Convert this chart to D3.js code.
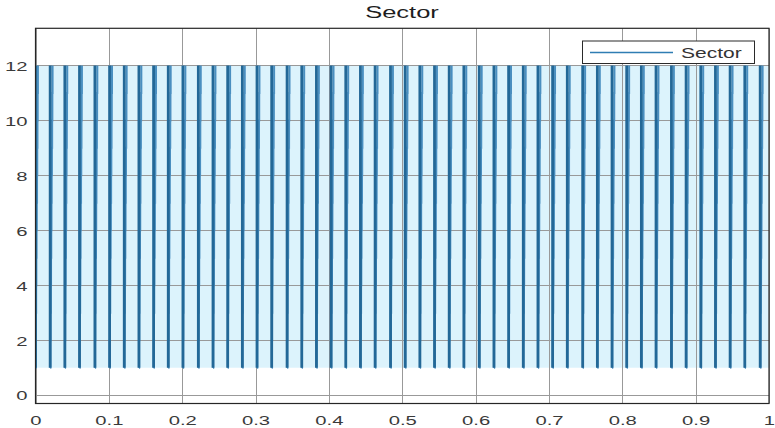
<!DOCTYPE html>
<html>
<head>
<meta charset="utf-8">
<script src="https://cdn.jsdelivr.net/npm/d3@7"></script>
<style>
  body { margin: 0; background: #fff; }
  svg { display: block; font-family: "Liberation Sans", Arial, sans-serif; }
</style>
</head>
<body>
<div id="chart"></div>
<script>
// start time of every sector cycle (s)
const cycleStarts = [
    0.000, 0.020, 0.040, 0.060, 0.081, 0.101, 0.121, 0.141, 0.161, 0.181,
    0.201, 0.222, 0.242, 0.262, 0.282, 0.302, 0.322, 0.343, 0.363, 0.383,
    0.403, 0.423, 0.443, 0.463, 0.484, 0.504, 0.524, 0.544, 0.564, 0.584,
    0.605, 0.625, 0.645, 0.665, 0.685, 0.705, 0.725, 0.746, 0.766, 0.786,
    0.806, 0.826, 0.846, 0.867, 0.887, 0.907, 0.927, 0.947, 0.967, 0.988
];
// sector numbers visited inside one cycle
const sectorLevels = [1, 2, 3, 4, 5, 6, 7, 8, 9, 10, 11, 12];
// time each sector is held in the fast stair-step (s)
const stepHold = 0.0003;
// envelope of the dense switching between bars
const bandLow = 1;
const bandHigh = 12;

const xTicks = [0, 0.1, 0.2, 0.3, 0.4, 0.5, 0.6, 0.7, 0.8, 0.9, 1];
const yTicks = [0, 2, 4, 6, 8, 10, 12];

(function () {
    const W = 775, H = 428;
    const left = 35.5, right = 769, top = 28.3, bottom = 403.5;
    const stretch = 1.5; // the picture is squashed wide, text too

    const svg = d3.select("#chart").append("svg")
        .attr("width", W).attr("height", H);

    const x = d3.scaleLinear().domain([0, 1]).range([left, right]);
    const y = d3.scaleLinear().domain([-0.3, 13.35]).range([bottom, top]);

    svg.append("defs").append("clipPath").attr("id", "plot")
        .append("rect").attr("x", left).attr("y", top)
        .attr("width", right - left).attr("height", bottom - top);

    // light band from the dense switching
    svg.append("path")
        .datum([0, 1])
        .attr("clip-path", "url(#plot)")
        .attr("fill", "#dcf3fc")
        .attr("d", d3.area().x(d => x(d)).y0(y(bandLow)).y1(y(bandHigh)));

    // grid
    const grid = svg.append("g").attr("stroke", "#999").attr("stroke-width", 1);
    grid.selectAll(".gx").data(xTicks).join("line")
        .attr("x1", d => Math.round(x(d)) + 0.5).attr("x2", d => Math.round(x(d)) + 0.5)
        .attr("y1", top).attr("y2", bottom);
    grid.selectAll(".gy").data(yTicks).join("line")
        .attr("y1", d => Math.round(y(d)) + 0.5).attr("y2", d => Math.round(y(d)) + 0.5)
        .attr("x1", left).attr("x2", right);

    // sector signal: drop 12 -> 1 then fast stair back up to 12, each cycle
    const line = d3.line().x(d => x(d[0])).y(d => y(d[1])).curve(d3.curveStepAfter);
    const g = svg.append("g").attr("clip-path", "url(#plot)");
    cycleStarts.forEach(s => {
        const drop = [[s, sectorLevels[sectorLevels.length - 1]], [s, sectorLevels[0]]];
        const stairs = sectorLevels.map((lv, i) => [s + i * stepHold, lv]);
        g.append("path").datum(stairs)
            .attr("fill", "none").attr("stroke", "#4a8fc0").attr("stroke-width", 2)
            .attr("d", line);
        g.append("path").datum(drop)
            .attr("fill", "none").attr("stroke", "#236897").attr("stroke-width", 2.8)
            .attr("d", d3.line().x(d => x(d[0])).y(d => y(d[1])));
    });

    // axes box
    svg.append("rect").attr("x", left).attr("y", top)
        .attr("width", right - left).attr("height", bottom - top)
        .attr("fill", "none").attr("stroke", "#262626").attr("stroke-width", 1.2);

    // tick labels (tick groups sit at x(d), the scale keeps them centred)
    const xAxis = d3.axisBottom(x).tickValues(xTicks).tickSize(0).tickFormat(d3.format("~g"));
    const ax = svg.append("g").attr("transform", `translate(0,${bottom})`).call(xAxis);
    ax.select(".domain").remove();
    ax.selectAll("text")
        .attr("x", 0).attr("y", 0).attr("dy", 0)
        .attr("fill", "#3a3a3a").attr("font-size", 13.5)
        .attr("transform", `translate(0,21.5) scale(${stretch},1)`);

    const yAxis = d3.axisLeft(y).tickValues(yTicks).tickSize(0).tickFormat(d3.format("d"));
    const ay = svg.append("g").attr("transform", `translate(${left},0)`).call(yAxis);
    ay.select(".domain").remove();
    ay.selectAll("text")
        .attr("x", 0).attr("dy", "0.35em")
        .attr("fill", "#3a3a3a").attr("font-size", 13.5)
        .attr("transform", `translate(-8,0) scale(${stretch},1)`);

    // title
    svg.append("text")
        .attr("transform", `translate(402,18) scale(${stretch},1)`)
        .attr("text-anchor", "middle")
        .attr("font-size", 17).attr("fill", "#1e1e1e")
        .text("Sector");

    // legend
    const lg = svg.append("g");
    lg.append("rect").attr("x", 582.5).attr("y", 41).attr("width", 172).attr("height", 22.5)
        .attr("fill", "#fff").attr("stroke", "#2a2a2a").attr("stroke-width", 1);
    lg.append("line").attr("x1", 590).attr("x2", 673).attr("y1", 52.5).attr("y2", 52.5)
        .attr("stroke", "#2f7db3").attr("stroke-width", 1.6);
    lg.append("text")
        .attr("transform", `translate(681,57.5) scale(${stretch},1)`)
        .attr("font-size", 14).attr("fill", "#333")
        .text("Sector");
})();
</script>
</body>
</html>
